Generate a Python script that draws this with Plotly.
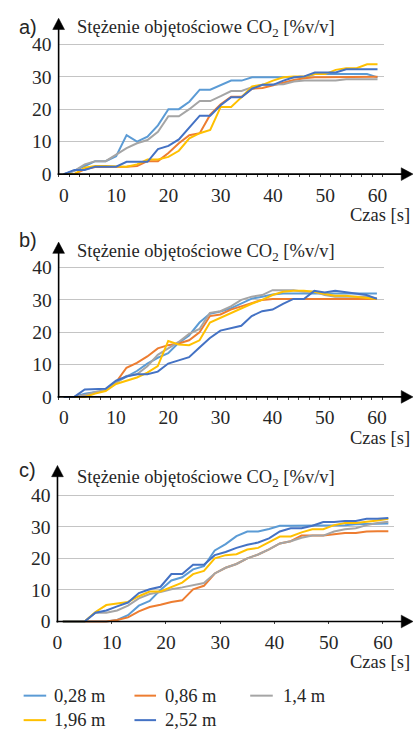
import plotly.graph_objects as go

W, H = 417, 735

series_names = ["0,28 m", "0,86 m", "1,4 m", "1,96 m", "2,52 m"]
series_colors = ["#5B9BD5", "#ED7D31", "#A5A5A5", "#FFC000", "#4472C4"]

time_ab = list(range(0, 61, 2))
time_c = list(range(1, 62, 2))

# panel a)
a_028 = [0, 1, 2.5, 4, 4, 5.5, 12, 10, 11.5, 15, 20, 20, 22.3, 26, 26, 27.5, 28.8, 28.8, 29.8, 29.8,
         29.8, 29.8, 29.8, 29.8, 30.8, 30.8, 30.8, 30.8, 30.8, 30.8, 29.8]
a_086 = [0, 0, 1.5, 2.2, 2.2, 2.2, 2.3, 2.5, 4, 4, 6.5, 9.5, 12, 12.6, 18.3, 21.5, 23.8, 23.8, 26.3, 26.5,
         27.3, 28.3, 29, 29.5, 29.8, 29.8, 29.8, 29.8, 29.8, 29.8, 30]
a_14 = [0, 1, 3, 4, 4, 6, 8, 9.5, 10.5, 13, 17.8, 17.8, 20, 22.5, 22.5, 24, 25.6, 25.6, 26.8, 27.5,
        27.7, 27.7, 28.5, 28.8, 28.8, 28.8, 28.8, 29.2, 29.2, 29.2, 29.2]
a_196 = [0, 0, 2, 2.5, 2.5, 2.3, 2.3, 3, 4.5, 4.5, 5.3, 7.2, 11, 12.6, 13.6, 20.7, 20.7, 23.7, 27, 27.5,
         28.8, 29.8, 30.1, 30.1, 30.8, 30.8, 32.1, 32.6, 32.6, 33.8, 33.8]
a_252 = [0, 1.3, 1.3, 2.3, 2.3, 2.3, 3.8, 3.8, 3.8, 7.7, 8.7, 10.7, 14.3, 18, 18, 21.2, 23.7, 23.7, 26.3, 27.5,
         27.5, 28.8, 29.8, 30.1, 31.3, 31.3, 31.3, 32.3, 32.3, 32.3, 32.3]

# panel b)
b_028 = [0, 0, 1, 1.5, 2, 4.5, 6.2, 8, 10.3, 12.1, 13.5, 16.7, 19, 23, 25.7, 26.4, 27.4, 29, 30.4, 31,
         31.7, 32, 32, 32, 32, 32, 32, 32, 32, 32, 32]
b_086 = [0, 0, 0.5, 1.2, 2, 4.5, 9, 10.5, 12.5, 15, 16, 16.5, 17.5, 20, 25, 25.5, 27, 28, 29, 30,
         30.3, 30.3, 30.3, 30.3, 30.3, 30.3, 30.3, 30.3, 30.3, 30.3, 30.3]
b_14 = [0, 0, 0.5, 1.5, 2, 4.5, 6.5, 7, 9.5, 13, 15, 17, 19.5, 21, 26, 26.5, 28, 30, 31, 31.5,
        33, 33, 33, 32.5, 32.5, 31.5, 31, 31, 31, 31, 30.5]
b_196 = [0, 0, 0, 1, 1.8, 4, 5, 6, 7.5, 9.5, 17.3, 16.2, 16, 17.5, 23, 24.5, 26, 27.5, 28.8, 30,
         31.5, 32.5, 32.8, 32.8, 32.5, 31.8, 31.3, 31.3, 31, 30.5, 30.3]
b_252 = [0, 0, 2.3, 2.5, 2.5, 5, 6.3, 7, 7, 7.8, 10.3, 11.3, 12.3, 15.3, 18.2, 20.5, 21.3, 22, 25, 26.5,
         27, 28.8, 30.3, 30.3, 32.8, 32.3, 32.8, 32.3, 31.8, 31.5, 30.3]

# panel c)
c_028 = [0, 0, 0, 0, 0, 0.5, 2, 5, 6.5, 10, 13, 14, 16.5, 17.5, 22.5, 24.5, 27, 28.5, 28.5, 29.3,
         30.3, 30.3, 30.3, 30.3, 30.3, 30.5, 30.5, 30.8, 30.8, 31, 31]
c_086 = [0, 0, 0, 0, 0, 0.5, 1.3, 3.2, 4.6, 5.3, 6.2, 6.7, 10.2, 11.3, 15.2, 17, 18.2, 20, 21.2, 22.8,
         24.7, 25.4, 27.2, 27.2, 27.2, 27.6, 28, 28, 28.5, 28.6, 28.6]
c_14 = [0, 0, 0, 2.8, 2.8, 3.5, 5, 7.3, 8.7, 9.3, 10.2, 10.8, 11.6, 12.2, 15.2, 17, 18.2, 20, 21.2, 22.8,
        24.7, 25.4, 26.5, 27.2, 27.2, 28.5, 29.2, 29.5, 30.5, 31.2, 31.6]
c_196 = [0, 0, 0, 3, 5.2, 5.7, 6.2, 8, 9.5, 9.5, 11, 12.3, 15, 16, 20, 21, 21.3, 22.8, 23.3, 25.1,
         26.9, 26.9, 28.2, 29.2, 29.2, 30.5, 31.2, 31.2, 31.5, 32, 32.5]
c_252 = [0, 0, 0, 2.8, 3.5, 4.8, 6, 9, 10.2, 11, 15, 15, 18, 18, 21, 22, 23.3, 24.3, 25, 26.3,
         28.5, 29.5, 29.5, 30.3, 31.5, 31.5, 31.8, 31.8, 32.5, 32.5, 32.8]

panel_labels = ["a)", "b)", "c)"]
y_title = "Stężenie objętościowe CO<sub>2</sub> [%v/v]"
x_title = "Czas [s]"
y_tickvals = [0, 10, 20, 30, 40]
x_tickvals = [0, 10, 20, 30, 40, 50, 60]

panel_data = [
    (time_ab, [a_028, a_086, a_14, a_196, a_252]),
    (time_ab, [b_028, b_086, b_14, b_196, b_252]),
    (time_c, [c_028, c_086, c_14, c_196, c_252]),
]

# geometry in pixels
geo = [
    dict(x0=60, kx=5.33, xr=(-1, 61.3), y0=170.6, ky=3.315, ytip=11.5, lab_y=20, title_y=22, czas_y=212, cat=True),
    dict(x0=60, kx=5.32, xr=(-1, 61.4), y0=398.0, ky=3.30, ytip=240, lab_y=238, title_y=251, czas_y=440, cat=True),
    dict(x0=53.5, kx=5.53, xr=(0, 62.1), y0=627.3, ky=3.225, ytip=468, lab_y=473, title_y=481, czas_y=669, cat=False),
]
Y_RANGE = (-0.9, 41)

SERIF = "Liberation Serif"
SANS = "Liberation Sans"
TXT = "#262626"
FS_TICK = 19.5
FS_TXT = 18.5


def px(x):
    return x / W


def py(y):
    return 1 - y / H


fig = go.Figure()
shapes = []
annotations = []

for i, ((tt, ser), g) in enumerate(zip(panel_data, geo)):
    n = "" if i == 0 else str(i + 1)
    xa = "x" + n
    ya = "y" + n
    left = g["x0"] + g["xr"][0] * g["kx"]
    right = g["x0"] + g["xr"][1] * g["kx"]
    top = g["y0"] - Y_RANGE[1] * g["ky"]
    bottom = g["y0"] - Y_RANGE[0] * g["ky"]

    for name, col, vals in zip(series_names, series_colors, ser):
        fig.add_trace(go.Scatter(x=tt, y=vals, mode="lines", name=name,
                                 line=dict(color=col, width=2),
                                 xaxis=xa, yaxis=ya, showlegend=False,
                                 cliponaxis=False))

    xaxis = dict(domain=[px(left), px(right)], range=list(g["xr"]), anchor=ya,
                 showgrid=False, zeroline=False, showline=False,
                 tickmode="array", tickvals=x_tickvals,
                 tickfont=dict(family=SERIF, size=FS_TICK, color=TXT),
                 ticklabelstandoff=4)
    if g["cat"]:
        xaxis.update(ticks="",
                     minor=dict(ticks="inside", ticklen=3, tickwidth=1, tickcolor="#404040",
                                tick0=1, dtick=2, showgrid=False))
    else:
        xaxis.update(ticks="inside", ticklen=3, tickwidth=1, tickcolor="#404040")
    yaxis = dict(domain=[py(bottom), py(top)], range=list(Y_RANGE), anchor=xa,
                 showgrid=True, gridcolor="#c4c4c4", gridwidth=1, zeroline=False,
                 showline=False, ticks="", tickmode="array", tickvals=y_tickvals,
                 tickfont=dict(family=SERIF, size=FS_TICK, color=TXT),
                 ticklabelstandoff=6)
    fig.update_layout({("xaxis" + n): xaxis, ("yaxis" + n): yaxis})

    # axis lines with arrowheads
    yx = left
    axis_y = g["y0"]
    shapes.append(dict(type="line", xref="paper", yref="paper",
                       x0=px(yx), x1=px(yx), y0=py(axis_y + 1), y1=py(g["ytip"] + 10),
                       line=dict(color="black", width=1.6)))
    shapes.append(dict(type="path", xref="paper", yref="paper",
                       path=f"M {px(yx)},{py(g['ytip'])} L {px(yx - 6)},{py(g['ytip'] + 11.5)} "
                            f"L {px(yx + 6)},{py(g['ytip'] + 11.5)} Z",
                       fillcolor="black", line=dict(color="black", width=0.5)))
    shapes.append(dict(type="line", xref="paper", yref="paper",
                       x0=px(yx - 1), x1=px(405), y0=py(axis_y), y1=py(axis_y),
                       line=dict(color="black", width=1.6)))
    shapes.append(dict(type="path", xref="paper", yref="paper",
                       path=f"M {px(416)},{py(axis_y)} L {px(404)},{py(axis_y - 6.5)} "
                            f"L {px(404)},{py(axis_y + 6.5)} Z",
                       fillcolor="black", line=dict(color="black", width=0.5)))

    annotations.append(dict(text=panel_labels[i], xref="paper", yref="paper",
                            x=px(12), y=py(g["lab_y"]), xanchor="left", yanchor="middle",
                            showarrow=False, font=dict(family=SANS, size=20, color=TXT)))
    annotations.append(dict(text=y_title, xref="paper", yref="paper",
                            x=px(71), y=py(g["title_y"]), xanchor="left", yanchor="middle",
                            showarrow=False, font=dict(family=SERIF, size=FS_TXT, color=TXT)))
    annotations.append(dict(text=x_title, xref="paper", yref="paper",
                            x=px(415), y=py(g["czas_y"]), xanchor="right", yanchor="middle",
                            showarrow=False, font=dict(family=SERIF, size=FS_TXT, color=TXT)))

# legend (drawn manually)
leg_rows = [703, 728]
leg_cols = [(19, 42, 48), (132, 154, 161), (250, 273, 281)]
for k, (name, col) in enumerate(zip(series_names, series_colors)):
    r, c = divmod(k, 3)
    l0, l1, tx = leg_cols[c]
    yy = leg_rows[r]
    shapes.append(dict(type="line", xref="paper", yref="paper",
                       x0=px(l0), x1=px(l1), y0=py(yy), y1=py(yy),
                       line=dict(color=col, width=2)))
    annotations.append(dict(text=name, xref="paper", yref="paper",
                            x=px(tx), y=py(yy), xanchor="left", yanchor="middle",
                            showarrow=False, font=dict(family=SERIF, size=FS_TXT, color=TXT)))

fig.update_layout(width=W, height=H, autosize=False,
                  font=dict(family=SERIF, size=FS_TXT, color=TXT),
                  margin=dict(l=0, r=0, t=0, b=0, pad=0),
                  paper_bgcolor="white", plot_bgcolor="rgba(0,0,0,0)",
                  showlegend=False, shapes=shapes, annotations=annotations)

fig.write_html("out.html")
